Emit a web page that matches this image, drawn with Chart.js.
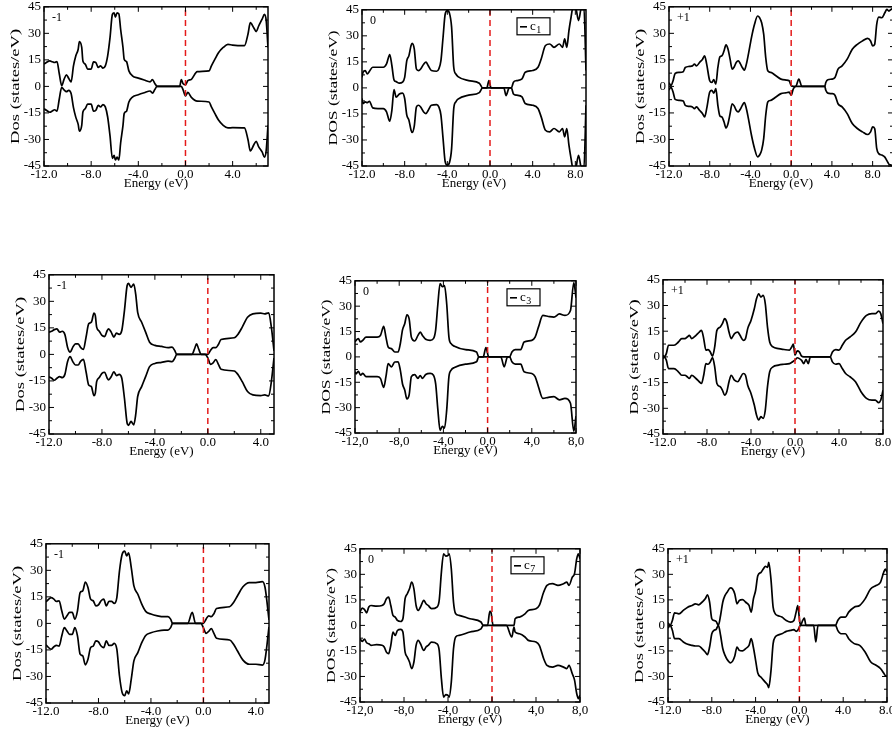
<!DOCTYPE html>
<html>
<head>
<meta charset="utf-8">
<script src="https://cdn.jsdelivr.net/npm/chart.js@4.4.0/dist/chart.umd.min.js"></script>
<style>
  html, body { margin: 0; padding: 0; background: #fff; width: 892px; height: 734px; overflow: hidden; position: relative; }
  canvas { position: absolute; }
</style>
</head>
<body>
<script>
// ---- axis ticks ----
const xTickValues = [-12, -8, -4, 0, 4, 8];
const xTickText = ['-12.0', '-8.0', '-4.0', '0.0', '4.0', '8.0'];
const xTickTextComma = ['-12,0', '-8,0', '-4,0', '0,0', '4,0', '8,0'];
const xMinorValues = [-10, -6, -2, 2, 6, 10];
const yTickValues = [-45, -30, -15, 0, 15, 30, 45];
const yMinorValues = [-37.5, -22.5, -7.5, 7.5, 22.5, 37.5];
const fermiX = [0, 0];
const fermiY = [-45, 45];

// ---- panel 1 (-1) ----
const energy1 = [-12, -11.8, -11.5, -11.3, -11.1, -10.9, -10.7, -10.5, -10.3, -10.1, -9.9, -9.7, -9.5, -9.3, -9.1, -9.0, -8.8, -8.7, -8.5, -8.3, -8.0, -7.8, -7.6, -7.4, -7.2, -7.0, -6.8, -6.6, -6.4, -6.2, -6.05, -5.95, -5.8, -5.65, -5.5, -5.3, -5.2, -5.0, -4.8, -4.5, -4.0, -3.5, -3.0, -2.8, -2.6, -2.4, -1.5, -0.5, -0.35, -0.2, 0, 0.2, 0.5, 1.0, 2.0, 2.2, 2.5, 2.8, 3.2, 3.6, 4.0, 5.0, 5.3, 5.5, 5.8, 6.0, 6.2, 6.5, 6.7, 6.85, 7.0];
const up1 = [12.6, 13.5, 14.4, 13.9, 13.5, 14, 7, 0.4, 4, 6.5, 4.5, 2.5, 11.6, 17.3, 21, 25.3, 22, 14.4, 12.6, 9.8, 9.8, 13.9, 13.5, 10.7, 11.6, 10.3, 11.6, 17.3, 27.6, 40.7, 41.6, 39.2, 41.6, 41, 32.3, 22, 15.4, 14, 8.8, 6, 4.7, 3.6, 2.6, 3.8, 1.7, 0, 0, 0, 3.8, 1.5, 1.0, 3.2, 4, 8.3, 8.8, 11.6, 15.4, 19, 22, 23.8, 23.3, 23, 29.5, 36, 33, 31, 34, 38, 40.7, 37, 22];
const down1 = [-12.6, -13.5, -14.6, -13.9, -13.2, -14, -7, -0.5, -2, -3, -2.2, -4, -12, -17.5, -21.5, -25.3, -22, -14.5, -12.6, -10, -10, -14, -13.5, -10.7, -11.6, -10.3, -11.6, -17.3, -28, -40.7, -39, -41.6, -40, -41.6, -32, -22, -15.4, -14, -8.8, -6, -4.7, -3.6, -2.6, -3.8, -1.7, 0, 0, 0, 0, -2, -5.3, -3.4, -6.2, -8.3, -8.8, -11.6, -15.4, -19, -22, -23.5, -23.3, -23.5, -30, -36.5, -33, -31, -34, -37, -40, -36, -22];

// ---- panel 2 (0, c1) ----
const energy2 = [-12, -11.9, -11.7, -11.5, -11.3, -11.0, -10.5, -10.0, -9.7, -9.4, -9.2, -9.0, -8.8, -8.5, -8.2, -8.0, -7.8, -7.6, -7.4, -7.3, -7.1, -6.9, -6.7, -6.5, -6.2, -6.0, -5.8, -5.5, -5.0, -4.8, -4.6, -4.4, -4.2, -4.0, -3.8, -3.6, -3.4, -3.2, -3.0, -2.0, -1.0, -0.7, -0.3, -0.1, 0.1, 1.3, 1.5, 1.8, 2.0, 2.2, 2.5, 3.0, 3.3, 4.0, 4.5, 4.8, 5.2, 5.6, 6.0, 6.5, 6.8, 7.0, 7.2, 7.4, 7.6, 7.8, 8.0, 8.3, 8.6, 8.8, 9.0];
const up2 = [6.1, 9, 10, 8, 9.6, 11.9, 11.9, 11.9, 13.8, 19.2, 12.9, 4.6, 3.6, 2.7, 3.3, 6.1, 15.7, 18.6, 24.4, 25.7, 22.5, 10.9, 10, 10.9, 13.8, 14.8, 12.9, 10, 9.6, 10.9, 15.7, 29.2, 42.6, 44.5, 43, 35, 11.9, 8, 6.5, 4.2, 2.7, 0, 0, 4.2, 0, 0, 0, 0, 0, 3.3, 4.2, 5.2, 9, 10, 11.9, 16.7, 24.4, 25.3, 23.4, 25.3, 23.4, 28.2, 23.4, 33, 40.7, 47, 47, 38.8, 47, 47, 10];
const down2 = [-6.1, -9, -8, -8.5, -7.7, -11.5, -11.9, -11.9, -13.8, -19.2, -12.9, -1, -5.4, -3.5, -3, -6.1, -15.7, -18.6, -24.4, -25.7, -22, -11, -10, -11, -14, -14.8, -13, -10, -9.6, -10.9, -15.7, -29.2, -42.6, -44.5, -43, -35, -11.9, -8, -6.5, -4.2, -2.7, 0, 0, 0, 0, 0, -4.4, 0, 0, -3.5, -4.2, -5.2, -9, -10, -11.9, -16.7, -24.4, -25.3, -23.4, -25.3, -23.4, -28.2, -23.4, -33, -40.7, -47, -47, -38.8, -47, -47, -10];

// ---- panel 3 (+1) ----
const energy3 = [-12, -11.8, -11.6, -11.4, -11.0, -10.6, -10.4, -10.0, -9.7, -9.5, -9.3, -9.0, -8.7, -8.5, -8.3, -8.0, -7.8, -7.6, -7.4, -7.2, -7.0, -6.8, -6.6, -6.4, -6.2, -6.0, -5.8, -5.6, -5.4, -5.2, -5.0, -4.8, -4.6, -4.4, -4.2, -3.9, -3.6, -3.3, -3.1, -2.9, -2.7, -2.5, -2.3, -2.0, -1.5, -1.0, -0.5, -0.2, 0, 0.2, 0.45, 0.75, 1.05, 3.3, 3.4, 3.6, 4.0, 4.3, 4.6, 5.0, 5.5, 6.0, 6.5, 7.0, 7.5, 7.8, 8.0, 8.2, 8.4, 8.6, 8.9, 9.2, 9.4, 9.6, 9.8, 10];
const up3 = [2, 0.5, 3.2, 7.3, 7.9, 8.3, 10.7, 11.3, 11.6, 12.6, 11.6, 13.5, 15.4, 17.3, 12.6, 3.2, 2.2, 3.8, 1.3, 10.7, 16.7, 17.3, 20, 23.5, 21, 15.4, 9.8, 11, 13.5, 14.4, 12.9, 10.7, 9.2, 12.6, 18.2, 27.6, 35.1, 39.8, 38.8, 36, 29.5, 16.3, 8.8, 7.9, 6, 4.1, 3.6, 3.2, 0.4, 0, 0, 4.1, 0, 0, 2.2, 3.8, 4.1, 5, 9.8, 11.6, 15.4, 21, 23.8, 25.7, 27.2, 25.7, 22.9, 23.8, 35.1, 39.2, 38.8, 41.6, 43.5, 42.6, 43.5, 44];
const down3 = [-2, -0.5, -3.2, -7.3, -7.9, -8.3, -10.7, -11.3, -11.6, -12.6, -11.6, -13.5, -15.4, -17.3, -12.6, -3.2, -2.2, -3.8, -1.3, -10.7, -16.7, -17.3, -20, -23.5, -21, -15.4, -9.8, -11, -13.5, -14.4, -12.9, -10.7, -9.2, -12.6, -18.2, -27.6, -35.1, -39.8, -38.8, -36, -29.5, -16.3, -8.8, -7.9, -6, -4.1, -3.6, -3.2, -5, -1.5, 0, 0, 0, 0, -2.2, -3.8, -4.1, -5, -9.8, -11.6, -15.4, -21, -23.8, -25.7, -27.2, -25.7, -22.9, -23.8, -35.1, -38, -38.8, -40, -42, -44, -44.5, -45];

// ---- panel 4 (-1) ----
const energy4 = [-12, -11.8, -11.6, -11.4, -11.2, -11.0, -10.8, -10.6, -10.4, -10.2, -10.0, -9.8, -9.6, -9.4, -9.2, -9.0, -8.8, -8.6, -8.5, -8.4, -8.2, -8.0, -7.8, -7.6, -7.5, -7.3, -7.1, -6.9, -6.7, -6.5, -6.3, -6.1, -6.0, -5.8, -5.6, -5.45, -5.3, -5.0, -4.7, -4.4, -4.0, -3.5, -3.0, -2.7, -2.5, -2.35, -1.2, -1.0, -0.85, -0.7, -0.5, -0.2, 0, 0.2, 0.4, 0.6, 0.8, 1.0, 2.0, 2.3, 2.6, 3.0, 3.4, 4.0, 4.3, 4.6, 4.8, 5.0];
const up4 = [12.6, 13.1, 14, 14.4, 12.6, 13.1, 11.3, 4.1, 1.3, 4.1, 6, 6, 3.8, 2.8, 9.8, 17.3, 18.2, 23.3, 21.9, 15.4, 13.1, 10.7, 10.1, 13.5, 14.4, 12.6, 9.8, 12, 11.3, 13.5, 24.8, 38.8, 40.1, 37.9, 39.8, 34.1, 23.8, 18.2, 12.6, 6.9, 5.1, 4.5, 3.8, 4.1, 2.2, 0, 0, 3.2, 6, 3.2, 0, 0, 0, 2.2, 3.8, 3.8, 5.6, 8.4, 9.4, 11.6, 15.4, 21, 22.9, 23.3, 22.9, 23.5, 15.4, 2];
const down4 = [-12.6, -13.5, -14.6, -13.5, -12.6, -13.1, -11.3, -4.1, -1.3, -4.1, -6, -6, -3.8, -2.8, -9.8, -17.3, -18.2, -23.3, -21.9, -15.4, -13.1, -10.7, -10.1, -13.5, -14.4, -12.6, -9.8, -12, -11.3, -13.5, -24.8, -38.8, -40.1, -37.9, -39.8, -34.1, -23.8, -18.2, -12.6, -6.9, -5.1, -4.5, -3.8, -4.1, -2.2, 0, 0, 0, 0, 0, 0, 0, -2, -5.6, -4.8, -3, -5.6, -8.4, -9.4, -11.6, -15.4, -21, -22.9, -23.3, -22.9, -23.5, -15.4, -2];

// ---- panel 5 (0, c3) ----
const energy5 = [-12, -11.9, -11.7, -11.5, -11.3, -11.0, -10.5, -10.0, -9.7, -9.4, -9.2, -9.0, -8.7, -8.4, -8.1, -7.9, -7.7, -7.5, -7.3, -7.1, -6.9, -6.6, -6.3, -6.1, -5.9, -5.6, -5.2, -4.9, -4.7, -4.5, -4.3, -4.1, -3.9, -3.7, -3.5, -3.3, -3.0, -2.0, -1.0, -0.8, -0.4, -0.15, 0.1, 1.2, 1.5, 1.8, 2.0, 2.2, 2.5, 3.0, 3.3, 4.0, 4.3, 4.6, 5.0, 5.5, 6.0, 6.5, 7.0, 7.5, 7.8, 8.0];
const up5 = [8.8, 9.8, 10.8, 8.8, 9.8, 11.7, 11.7, 11.7, 12.7, 18, 11.7, 5.9, 4.9, 2.9, 2.9, 7.8, 16, 19.6, 24.9, 22.5, 11.7, 9.4, 12.7, 14.7, 12.7, 10.4, 9.8, 10.8, 16, 31.3, 43.4, 41.5, 42.1, 31.3, 11.7, 7.8, 6.3, 4.3, 2.9, 0, 0, 5.5, 0, 0, 0, 0, 0, 2.9, 4.3, 4.3, 8.8, 9.8, 11.7, 17.6, 24.5, 23.9, 23.5, 25.4, 24.5, 27.4, 44, 35];
const down5 = [-8.8, -10, -8.5, -10.8, -9.8, -11.7, -11.7, -11.7, -12.7, -18, -11.7, -4, -5.9, -3, -2.9, -7.8, -16, -19.6, -24.9, -22.5, -11.7, -10.5, -12.7, -11, -12.7, -10.4, -9.8, -10.8, -16, -31.3, -43.4, -41, -42.1, -31.3, -11.7, -7.8, -6.3, -4.3, -2.9, 0, 0, 0, 0, 0, -5.9, 0, 0, -2.9, -4.3, -4.3, -8.8, -9.8, -11.7, -17.6, -24.5, -23.9, -23.5, -25.4, -24.5, -27.4, -44, -35];

// ---- panel 6 (+1) ----
const energy6 = [-12, -11.9, -11.7, -11.5, -11.0, -10.6, -10.3, -10.0, -9.8, -9.6, -9.4, -9.0, -8.7, -8.5, -8.3, -8.1, -7.9, -7.7, -7.5, -7.3, -7.1, -6.8, -6.6, -6.4, -6.2, -6.0, -5.8, -5.5, -5.2, -5.0, -4.7, -4.5, -4.3, -4.0, -3.7, -3.5, -3.3, -3.1, -2.9, -2.7, -2.5, -2.3, -2.0, -1.5, -1.0, -0.5, -0.3, -0.15, 0, 0.2, 0.4, 0.6, 0.8, 1.0, 1.2, 1.4, 3.2, 3.4, 3.7, 4.0, 4.3, 4.6, 5.0, 5.5, 6.0, 6.5, 7.0, 7.3, 7.6, 7.8, 8.0];
const up6 = [1, 0, 1.9, 6.8, 6.8, 8.7, 10.7, 10.7, 11.6, 12.6, 10.7, 12.6, 14.5, 15.5, 10.7, 3.9, 4.3, 2.9, 0.4, 5.8, 15.5, 17.4, 19.4, 22.3, 20.3, 14.5, 10.7, 13.6, 14.5, 12.6, 9.7, 10.7, 16.5, 21.3, 28.1, 33.9, 36.8, 34.9, 35.9, 31, 17.4, 8.7, 5.8, 4.8, 4.3, 3.9, 5.8, 7.4, 1, 3.5, 2.9, 0.4, 0, 0, 0, 0, 0, 2.9, 4.3, 3.9, 6.8, 9.7, 11.6, 14.5, 20.3, 24.2, 25.2, 25.2, 26.7, 25.2, 19.4];
const down6 = [-1, 0, -1.9, -6.8, -6.8, -8.7, -10.7, -10.7, -11.6, -12.6, -10.7, -12.6, -14.5, -15.5, -10.7, -3.9, -4.3, -2.9, -0.4, -5.8, -15.5, -17.4, -19.4, -22.3, -20.3, -14.5, -10.7, -13.6, -14.5, -12.6, -9.7, -10.7, -16.5, -21.3, -28.1, -33.9, -36.8, -34.9, -35.9, -31, -17.4, -8.7, -5.8, -4.8, -4.3, -3.9, -3.2, -2.5, -1.9, -0.5, -1, -2, -3.9, -1.5, -3.9, 0, 0, -2.9, -4.3, -3.9, -6.8, -9.7, -11.6, -14.5, -20.3, -24.2, -25.2, -25.2, -26.7, -25.2, -19.4];

// ---- panel 7 (-1) ----
const energy7 = [-12, -11.6, -11.4, -11.2, -11.0, -10.8, -10.6, -10.4, -10.2, -10.0, -9.8, -9.6, -9.4, -9.2, -9.0, -8.8, -8.6, -8.4, -8.2, -8.0, -7.8, -7.6, -7.4, -7.2, -7.0, -6.8, -6.6, -6.4, -6.2, -6.0, -5.85, -5.7, -5.5, -5.3, -5.0, -4.7, -4.4, -4.0, -3.5, -3.0, -2.7, -2.5, -2.35, -1.2, -0.85, -0.6, -0.2, 0, 0.2, 0.4, 0.6, 0.8, 1.0, 2.0, 2.3, 2.6, 3.0, 3.5, 4.0, 4.5, 4.7, 5.0];
const up7 = [12.2, 14.6, 13.7, 12.4, 12.8, 7.1, 2.4, 4.3, 6.2, 6.2, 2.4, 7.1, 17.4, 18.4, 23.4, 20.3, 13.7, 12.8, 9.9, 10.5, 12.8, 13.7, 9.9, 12.4, 12.4, 11.3, 14.6, 29.6, 39, 40.9, 38.1, 39.9, 31.5, 21.2, 16.5, 10.9, 6.8, 5.3, 4.3, 3.8, 3.8, 2.4, 0, 0, 6.2, 0, 0, 0, 2.4, 4.3, 3.8, 5.5, 8.4, 9.4, 11.8, 15.6, 20.6, 23.1, 23.1, 23.6, 20.3, 2];
const down7 = [-12.2, -14.6, -13.2, -12.4, -12.8, -7.1, -2.4, -4.3, -6.2, -6.2, -2.4, -7.1, -17.4, -18.4, -23.4, -20.3, -13.7, -12.8, -9.9, -10.5, -12.8, -13.7, -9.9, -12.4, -12.4, -11.3, -14.6, -29.6, -39, -40.9, -38.1, -39.9, -31.5, -21.2, -16.5, -10.9, -6.8, -5.3, -4.3, -3.8, -3.8, -2.4, 0, 0, 0, 0, 0, -2.5, -5.6, -4.5, -3, -5.6, -8.4, -9.4, -11.8, -15.6, -20.6, -23.1, -23.1, -23.6, -20.3, -2];

// ---- panel 8 (0, c7) ----
const energy8 = [-12, -11.8, -11.6, -11.4, -11.2, -11.0, -10.5, -10.0, -9.8, -9.6, -9.4, -9.2, -9.0, -8.8, -8.6, -8.3, -8.1, -7.9, -7.7, -7.5, -7.3, -7.1, -6.9, -6.7, -6.5, -6.2, -6.0, -5.8, -5.5, -5.0, -4.8, -4.6, -4.4, -4.2, -4.0, -3.9, -3.7, -3.5, -3.3, -3.0, -2.0, -1.0, -0.8, -0.4, -0.2, -0.1, 0.1, 1.3, 1.8, 2.0, 2.1, 2.5, 3.0, 3.3, 4.0, 4.3, 4.7, 5.0, 5.5, 6.0, 6.5, 6.8, 7.0, 7.3, 7.5, 7.7, 7.85, 8.0];
const up8 = [7.8, 10.2, 9.4, 7.4, 10.8, 11.7, 11.3, 11.7, 12.7, 15.7, 16.6, 11.7, 5.9, 4.9, 2.9, 2.3, 3.9, 15.7, 18.6, 21.5, 25.4, 21.5, 11.7, 8.8, 10.8, 14.7, 12.7, 11.7, 9.8, 10.8, 14.7, 31.3, 42.1, 40.7, 41.1, 42.1, 33.3, 13.7, 6.8, 5.9, 3.9, 2, 0, 0, 8.2, 7.8, 0, 0, 0, 0, 3.9, 4.9, 6.8, 8.8, 9.8, 11.7, 19.6, 23.5, 24.5, 23.5, 24.5, 25.4, 23.5, 28.4, 30.3, 39.1, 42.1, 39.1];
const down8 = [-7.8, -9.4, -8, -10.2, -10.8, -11.7, -11.3, -11.7, -12.7, -15.7, -16.6, -11.7, -3.9, -5.9, -3, -2.3, -3.9, -15.7, -18.6, -21.5, -25.4, -21.5, -11.7, -8.8, -10.8, -14.7, -12.7, -11.7, -9.8, -10.8, -14.7, -31.3, -42.1, -40.7, -41.1, -42.1, -33.3, -13.7, -6.8, -5.9, -3.9, -2, 0, 0, 0, 0, 0, 0, -6.8, -1, -3.9, -4.9, -6.8, -8.8, -9.8, -11.7, -19.6, -23.5, -24.5, -23.5, -24.5, -25.4, -23.5, -28.4, -32, -40, -43, -41];

// ---- panel 9 (+1) ----
const energy9 = [-12, -11.8, -11.6, -11.4, -11.0, -10.6, -10.2, -9.8, -9.5, -9.2, -8.9, -8.6, -8.4, -8.2, -8.0, -7.8, -7.6, -7.4, -7.2, -7.0, -6.8, -6.6, -6.3, -6.1, -5.9, -5.7, -5.5, -5.2, -4.9, -4.6, -4.4, -4.2, -4.0, -3.8, -3.5, -3.3, -3.1, -2.9, -2.8, -2.6, -2.4, -2.2, -2.0, -1.6, -1.2, -0.8, -0.5, -0.3, -0.15, 0, 0.1, 0.3, 0.45, 0.6, 1.3, 1.5, 1.7, 3.3, 3.5, 3.8, 4.2, 4.5, 5.0, 5.5, 6.0, 6.5, 7.0, 7.4, 7.7, 7.85, 8.0];
const up9 = [1.6, 0, 2.9, 7.4, 6.8, 8.8, 10.7, 11.7, 12.7, 12.1, 13.6, 15.6, 17.9, 13.6, 3.9, 2.9, 2.3, 0, 5.8, 13.6, 17.5, 19.5, 22, 21.4, 18.5, 12.7, 14.6, 15.2, 13.6, 11.7, 7.8, 15.6, 20.5, 29.2, 31.2, 33.1, 34.7, 34.1, 37, 27.3, 10.7, 6.8, 5.8, 4.9, 2.9, 1.9, 2.9, 7.8, 11.7, 3.9, 0, 2.9, 4.3, 0, 0, 0, 0, 0, 2.9, 4.9, 4.9, 7.8, 10.7, 11.7, 15.6, 21.4, 23.4, 25.3, 31.2, 33.1, 31.2];
const down9 = [-1.6, 0, -2.9, -7.8, -7.8, -9.7, -11.1, -11.7, -12.1, -12.1, -13.6, -15.6, -17.2, -12.7, -4.9, -2.9, -2.3, 0, -5.8, -13.6, -17.5, -20, -22, -21, -18, -12.7, -14.6, -15, -13.6, -11.7, -7.8, -13, -20.5, -28, -30.5, -32, -33.5, -35, -36.5, -27, -10.7, -6.8, -5.8, -4.9, -3.5, -2.9, -2.5, -3.5, -2.9, -1, 0, 0, 0, 0, 0, -9.7, 0, 0, -2.9, -4.9, -4.9, -7.8, -10.7, -11.7, -15.6, -21.4, -23.4, -25.3, -28, -29.5, -30];

// frame = [left, top, width, height] of each plotting box on the page
const panels = [
  { energy: energy1, up: up1, down: down1, xMax: 7,  frame: [44, 6, 224, 160],   tag: '-1', yTitle: 'Dos (states/eV)', comma: false, legend: null },
  { energy: energy2, up: up2, down: down2, xMax: 9,  frame: [362, 9, 224, 157],  tag: '0',  yTitle: 'DOS (states/eV)', comma: false, legend: '1' },
  { energy: energy3, up: up3, down: down3, xMax: 10, frame: [669, 6, 224, 160],  tag: '+1', yTitle: 'Dos (states/eV)', comma: false, legend: null },
  { energy: energy4, up: up4, down: down4, xMax: 5,  frame: [49, 274, 225, 160], tag: '-1', yTitle: 'Dos (states/eV)', comma: false, legend: null },
  { energy: energy5, up: up5, down: down5, xMax: 8,  frame: [355, 280, 221, 153], tag: '0', yTitle: 'DOS (states/eV)', comma: true, legend: '3' },
  { energy: energy6, up: up6, down: down6, xMax: 8,  frame: [663, 279, 220, 155], tag: '+1', yTitle: 'Dos (states/eV)', comma: false, legend: null },
  { energy: energy7, up: up7, down: down7, xMax: 5,  frame: [46, 543, 223, 160], tag: '-1', yTitle: 'Dos (states/eV)', comma: false, legend: null },
  { energy: energy8, up: up8, down: down8, xMax: 8,  frame: [360, 548, 220, 154], tag: '0', yTitle: 'DOS (states/eV)', comma: true, legend: '7' },
  { energy: energy9, up: up9, down: down9, xMax: 8,  frame: [668, 548, 219, 154], tag: '+1', yTitle: 'Dos (states/eV)', comma: false, legend: null }
];

const SERIF = '"Liberation Serif", "Times New Roman", serif';
Chart.defaults.font.family = SERIF;
Chart.defaults.color = '#000';

const AXIS_W = 48, PAD_T = 10, PAD_R = 18, AXIS_H = 25, PAD_B = 2;

function drawDecor(chart, p) {
  const { ctx, chartArea: a, scales: { x, y } } = chart;
  ctx.save();
  ctx.strokeStyle = '#000';
  ctx.fillStyle = '#000';
  ctx.lineWidth = 1;
  const tick = (px, py, dx, dy) => { ctx.beginPath(); ctx.moveTo(px, py); ctx.lineTo(px + dx, py + dy); ctx.stroke(); };
  xTickValues.filter(v => v <= p.xMax).forEach(v => {
    const px = x.getPixelForValue(v);
    tick(px, a.bottom, 0, -5); tick(px, a.top, 0, 5);
  });
  xMinorValues.filter(v => v < p.xMax).forEach(v => {
    const px = x.getPixelForValue(v);
    tick(px, a.bottom, 0, -3); tick(px, a.top, 0, 3);
  });
  yTickValues.forEach(v => {
    const py = y.getPixelForValue(v);
    tick(a.left, py, 5, 0); tick(a.right, py, -5, 0);
  });
  yMinorValues.forEach(v => {
    const py = y.getPixelForValue(v);
    tick(a.left, py, 3, 0); tick(a.right, py, -3, 0);
  });
  ctx.lineWidth = 1.5;
  ctx.strokeRect(a.left, a.top, a.right - a.left, a.bottom - a.top);

  // panel tag
  ctx.font = '12px ' + SERIF;
  ctx.textBaseline = 'top';
  ctx.textAlign = 'left';
  ctx.fillText(p.tag, a.left + 8, a.top + 5);

  // legend box
  if (p.legend) {
    const bx = a.right - 69, by = a.top + 8;
    ctx.lineWidth = 1.2;
    ctx.strokeRect(bx, by, 33, 17);
    ctx.lineWidth = 1.6;
    ctx.beginPath(); ctx.moveTo(bx + 3, by + 9); ctx.lineTo(bx + 10, by + 9); ctx.stroke();
    ctx.textBaseline = 'alphabetic';
    ctx.font = '13px ' + SERIF;
    ctx.fillText('c', bx + 13, by + 12);
    const cw = ctx.measureText('c').width;
    ctx.font = '10px ' + SERIF;
    ctx.fillText(p.legend, bx + 13 + cw + 0.5, by + 15);
  }

  // y title, stretched along its length like the original
  ctx.translate(a.left - 28, (a.top + a.bottom) / 2);
  ctx.rotate(-Math.PI / 2);
  ctx.font = '13px ' + SERIF;
  const w = ctx.measureText(p.yTitle).width;
  ctx.scale(115 / w, 1);
  ctx.textAlign = 'center';
  ctx.textBaseline = 'middle';
  ctx.fillText(p.yTitle, 0, 0);
  ctx.restore();
}

panels.forEach(p => {
  const [L, T, W, H] = p.frame;
  const canvas = document.createElement('canvas');
  canvas.width = AXIS_W + W + PAD_R;
  canvas.height = PAD_T + H + AXIS_H + PAD_B;
  canvas.style.left = (L - AXIS_W) + 'px';
  canvas.style.top = (T - PAD_T) + 'px';
  document.body.appendChild(canvas);

  const labels = p.comma ? xTickTextComma : xTickText;
  const curve = vals => p.energy.map((e, i) => ({ x: e, y: vals[i] }));

  new Chart(canvas, {
    type: 'line',
    data: {
      datasets: [
        { data: fermiX.map((v, i) => ({ x: v, y: fermiY[i] })), borderColor: '#e41a1a', borderWidth: 1.5, borderDash: [6, 4], pointRadius: 0, order: 0 },
        { data: curve(p.up), borderColor: '#000', borderWidth: 1.7, pointRadius: 0, cubicInterpolationMode: 'monotone', order: 1 },
        { data: curve(p.down), borderColor: '#000', borderWidth: 1.7, pointRadius: 0, cubicInterpolationMode: 'monotone', order: 1 }
      ]
    },
    options: {
      responsive: false,
      animation: false,
      devicePixelRatio: 1,
      layout: { padding: { left: 0, top: PAD_T, right: PAD_R, bottom: PAD_B } },
      plugins: { legend: { display: false }, tooltip: { enabled: false } },
      scales: {
        x: {
          type: 'linear', min: -12, max: p.xMax,
          grid: { display: false, drawTicks: false }, border: { display: false },
          afterBuildTicks: s => { s.ticks = xTickValues.filter(v => v <= p.xMax).map(v => ({ value: v })); },
          afterFit: s => { s.height = AXIS_H; },
          ticks: { autoSkip: false, maxRotation: 0, padding: 1, font: { size: 13 },
                   callback: v => labels[xTickValues.indexOf(v)] },
          title: { display: true, text: 'Energy (eV)', font: { size: 13 }, padding: 0 }
        },
        y: {
          type: 'linear', min: -45, max: 45,
          grid: { display: false, drawTicks: false }, border: { display: false },
          afterBuildTicks: s => { s.ticks = yTickValues.map(v => ({ value: v })); },
          afterFit: s => { s.width = AXIS_W; },
          ticks: { padding: 3, font: { size: 13 }, callback: v => String(v) }
        }
      }
    },
    plugins: [{ id: 'decor', afterDraw: chart => drawDecor(chart, p) }]
  });
});
</script>
</body>
</html>
